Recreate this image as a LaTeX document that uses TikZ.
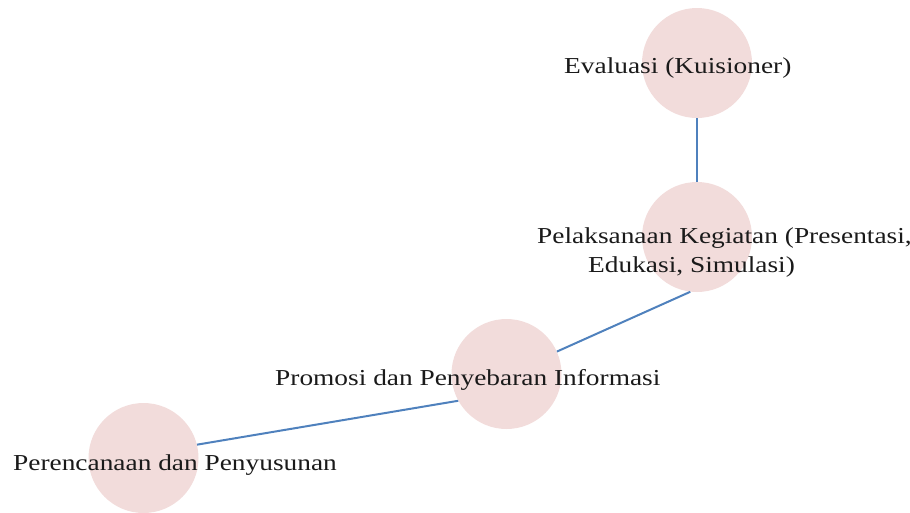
\documentclass[tikz,border=0pt]{standalone}
\usepackage{fontspec}
\setmainfont[FakeStretch=1.2]{Liberation Serif}
\definecolor{circfill}{HTML}{F2DCDB}
\definecolor{linkblue}{HTML}{4F81BD}
\definecolor{txt}{HTML}{1A1A1A}
\begin{document}
\begin{tikzpicture}[x=1pt,y=-1pt,
  stage/.style={circle,fill=circfill,minimum size=110pt,inner sep=0pt},
  link/.style={draw=linkblue,line width=2pt},
  lbl/.style={anchor=base west,inner sep=0pt,font=\fontsize{22.8}{27}\selectfont,text=txt}]
\useasboundingbox (0,0) rectangle (910,512);
\node[stage] (ev) at (697,63) {};
\node[stage] (pel) at (697,237) {};
\node[stage] (pro) at (506.5,374) {};
\node[stage] (per) at (143.5,458) {};
\draw[link] (ev.270) -- (pel.90);
\draw[link] (pel.263) -- (pro.24);
\draw[link] (pro.209) -- (per.14);
\node[lbl] (tev) at (564,73) {Evaluasi (Kuisioner)};
\node[lbl] (tpel1) at (537,243) {Pelaksanaan Kegiatan (Presentasi,};
\node[lbl] (tpel2) at (588,272) {Edukasi, Simulasi)};
\node[lbl] (tpro) at (275,385) {Promosi dan Penyebaran Informasi};
\node[lbl] (tper) at (13,470) {Perencanaan dan Penyusunan};
\end{tikzpicture}
\end{document}
